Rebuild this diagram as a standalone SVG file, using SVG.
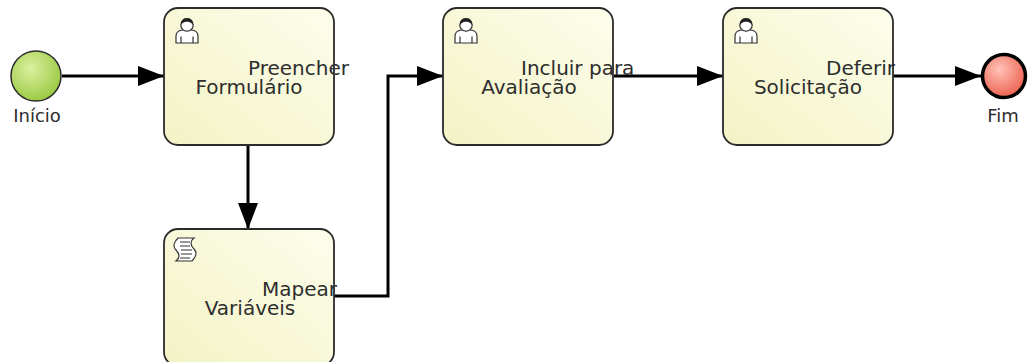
<svg xmlns="http://www.w3.org/2000/svg" width="1031" height="362" viewBox="0 0 1031 362">
<style>
.task{fill:url(#taskGrad);stroke:#2b2b2b;stroke-width:1.8}
.lbl{font-family:"DejaVu Sans","Liberation Sans",sans-serif;font-size:20px;fill:#2e2e2e}
.evlbl{font-family:"DejaVu Sans","Liberation Sans",sans-serif;font-size:18px;fill:#2e2e2e}
.flow{fill:none;stroke:#000;stroke-width:3;marker-end:url(#arr)}
.icon{fill:#fff;stroke:#333;stroke-width:1.2}
</style>
<defs>
<linearGradient id="taskGrad" x1="1" y1="0" x2="0" y2="1">
<stop offset="0" stop-color="#fdfdec"/>
<stop offset="1" stop-color="#f3f3c6"/>
</linearGradient>
<radialGradient id="startGrad" cx="0.4" cy="0.35" r="0.7">
<stop offset="0" stop-color="#dcf0a0"/>
<stop offset="1" stop-color="#96c83e"/>
</radialGradient>
<radialGradient id="endGrad" cx="0.4" cy="0.35" r="0.7">
<stop offset="0" stop-color="#ffc2b6"/>
<stop offset="1" stop-color="#ec5d4c"/>
</radialGradient>
<marker id="arr" markerWidth="26" markerHeight="20" refX="26" refY="10" orient="auto" markerUnits="userSpaceOnUse">
<path d="M0,0 L26,10 L0,20 Z" fill="#000"/>
</marker>
<g id="userIcon">
<path class="icon" d="M1,26 L1,19 Q1,13.5 8,13 L16,13 Q23,13.5 23,19 L23,26 Z"/>
<path d="M6,19.5 V26 M18,19.5 V26" stroke="#333" stroke-width="1.2" fill="none"/>
<circle class="icon" cx="12" cy="8" r="6.2"/>
<path d="M5.8,8.5 Q5.5,1 12,1 Q18.5,1 18.2,8.5 Q16,4.5 12,4.8 Q8,4.5 5.8,8.5 Z" fill="#222"/>
</g>
</defs>

<g id="connectors">
<line class="flow" x1="62" y1="76" x2="164" y2="76"/>
<line class="flow" x1="248" y1="145" x2="248" y2="229"/>
<polyline class="flow" points="334,296 388,296 388,76 443,76"/>
<line class="flow" x1="614" y1="76" x2="723" y2="76"/>
<line class="flow" x1="894" y1="76" x2="981" y2="76"/>
</g>

<g id="start">
<circle cx="36" cy="76" r="25" fill="url(#startGrad)" stroke="#2b2b2b" stroke-width="1.5"/>
<text class="evlbl" x="37" y="122" text-anchor="middle">Início</text>
</g>

<g id="task-preencher">
<rect class="task" x="164" y="8" width="170" height="137" rx="14"/>
<use href="#userIcon" transform="translate(175,17)"/>
<text class="lbl" x="248" y="75">Preencher</text>
<text class="lbl" x="249" y="94" text-anchor="middle">Formulário</text>
</g>

<g id="task-mapear">
<rect class="task" x="164" y="229" width="170" height="137" rx="14"/>
<g transform="translate(173,237)">
<path class="icon" d="M5,1 H21 C17,4 17,8 21,12 C25,16 22,21 19,24 H3 C7,21 7,17 3,13 C-1,9 2,4 5,1 Z"/>
<path d="M7,5 H17 M7,9 H17 M8,13 H19 M8,17 H19 M7,21 H17" stroke="#333" stroke-width="1.1" fill="none"/>
</g>
<text class="lbl" x="262" y="296">Mapear</text>
<text class="lbl" x="250" y="315" text-anchor="middle">Variáveis</text>
</g>

<g id="task-incluir">
<rect class="task" x="443" y="8" width="170" height="137" rx="14"/>
<use href="#userIcon" transform="translate(454,17)"/>
<text class="lbl" x="521" y="75">Incluir para</text>
<text class="lbl" x="529" y="94" text-anchor="middle">Avaliação</text>
</g>

<g id="task-deferir">
<rect class="task" x="723" y="8" width="170" height="137" rx="14"/>
<use href="#userIcon" transform="translate(734,17)"/>
<text class="lbl" x="826" y="75">Deferir</text>
<text class="lbl" x="808" y="94" text-anchor="middle">Solicitação</text>
</g>

<g id="end">
<circle cx="1004" cy="76" r="21.5" fill="url(#endGrad)" stroke="#000" stroke-width="3.5"/>
<text class="evlbl" x="1003" y="122" text-anchor="middle">Fim</text>
</g>
</svg>
